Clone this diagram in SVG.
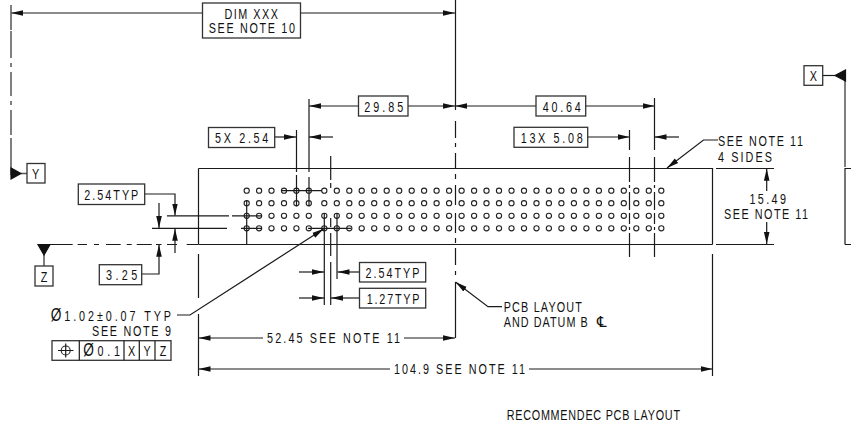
<svg xmlns="http://www.w3.org/2000/svg" width="851" height="427" viewBox="0 0 851 427">
<style>
text{font-family:"Liberation Sans",Arial,sans-serif;font-size:15px;fill:#111}
.m{text-anchor:middle}
.o{font-size:19px}
path,line,rect{fill:none;stroke:#1a1a1a;stroke-width:1.2}
.g{stroke:#555;stroke-width:1.5}
.b{stroke:#333;stroke-width:1.3;fill:#fff}
.a{marker-end:url(#ah)}
.f{fill:#111;stroke:#111}
circle{fill:none;stroke:#222;stroke-width:1.1}
</style>
<defs>
<marker id="ah" markerUnits="userSpaceOnUse" markerWidth="13" markerHeight="8" refX="12" refY="4" orient="auto"><path d="M0 1.2L12 4L0 6.800z" style="fill:#111;stroke:none"/></marker>
<g id="row">
<circle cx="246.7" r="2.6"/><circle cx="259.1" r="2.6"/><circle cx="271.5" r="2.6"/><circle cx="284" r="2.6"/><circle cx="296.4" r="2.6"/><circle cx="308.8" r="2.6"/>
<circle cx="324.3" r="2.6"/><circle cx="336.8" r="2.6"/><circle cx="349.3" r="2.6"/><circle cx="361.7" r="2.6"/><circle cx="374.2" r="2.6"/><circle cx="386.7" r="2.6"/><circle cx="399.2" r="2.6"/><circle cx="411.7" r="2.6"/><circle cx="424.1" r="2.6"/><circle cx="436.6" r="2.6"/><circle cx="449.1" r="2.6"/><circle cx="461.6" r="2.6"/><circle cx="474.1" r="2.6"/><circle cx="486.5" r="2.6"/><circle cx="499" r="2.6"/><circle cx="511.5" r="2.6"/><circle cx="524" r="2.6"/><circle cx="536.5" r="2.6"/><circle cx="548.9" r="2.6"/><circle cx="561.4" r="2.6"/><circle cx="573.9" r="2.6"/><circle cx="586.4" r="2.6"/><circle cx="598.9" r="2.6"/><circle cx="611.3" r="2.6"/><circle cx="623.8" r="2.6"/><circle cx="636.3" r="2.6"/><circle cx="648.8" r="2.6"/><circle cx="661.3" r="2.6"/>
</g>
</defs>
<g id="board">
<path d="M198.500 168.500H712.500V244.500M198.500 244.500V168.500M198.500 244.500H712.500"/>
<use href="#row" y="190.700"/><use href="#row" y="203.200"/><use href="#row" y="215.800"/><use href="#row" y="228.300"/>
</g>
<g id="connectors">
<path class="a" d="M202 13H11"/><path class="a" d="M300 13H455"/>
<path class="g" d="M11 5V30M11 31V58M11 63V67M11 72V96M11 101V105M11 110V135M11 138V175"/>
<path d="M455.500 0V110M455.500 121V138M455.500 143V147M455.500 153V168M455.500 174V179M455.500 185V205M455.500 213V233M455.500 238V243M455.500 248V265M455.500 271V275M455.500 282V338"/>
<path class="a" d="M358 106H309"/><path class="a" d="M408 106H455"/><path class="a" d="M536 106H455"/><path class="a" d="M586 106H654.500"/>
<path d="M309 99V172M309 177V206.500M296.500 130V172M296.500 175V206.500"/>
<path class="a" d="M275 137H296"/><path class="a" d="M333 137H309"/>
<path class="a" d="M588 137H629.500"/><path class="a" d="M679 137H654.500"/>
<path d="M654.500 98V150M654.500 157V182M654.500 185V188M654.500 192V210M654.500 213V224M654.500 227V230M654.500 233V257"/>
<path d="M629.500 130V150M629.500 157V182M629.500 185V188M629.500 192V210M629.500 213V224M629.500 227V230M629.500 233V257"/>
<path d="M330.700 156V180M330.700 183V188M330.700 218V227M330.700 233V256M330.700 262V305"/>
<path d="M324.300 213V305M337 213V279"/>
<path d="M281 190.700H322M308 228.300H351"/>
<path class="a" d="M299 272H324"/><path class="a" d="M359 272H337.500"/>
<path class="a" d="M299 298H324"/><path class="a" d="M359 298H331"/>
<path d="M167 215.800H229M232 215.800H262M152 228.300H227M241 228.300H262M246.700 200V244"/>
<path class="a" d="M144.500 194H175V215.500"/><path class="a" d="M159 203V228"/><path class="a" d="M175 253V228.800"/>
<path class="a" d="M141.500 274H159V244.800"/>
<path d="M38 244.500H72.700M77.700 244.500H87M94 244.500H99M106 244.500H120.700M126.700 244.500H131.700M136.700 244.500H151.700M156 244.500H161.500M167 244.500H177M186.700 244.500H198"/>
<path class="g" d="M44 255V266M27 173.500H21"/>
<path class="f" d="M38 244.500H50L44 255zM11 168L21 173.500L11 179z"/>
<path d="M198.500 254V298M198.500 314V376M712.500 254V376"/>
<path class="a" d="M263 338H198.500"/><path class="a" d="M404 338H455"/>
<path class="a" d="M390 369H198.500"/><path class="a" d="M529 369H712.500"/>
<path class="a" d="M177 315H190L323.800 228.800"/>
<path class="a" d="M502 306.700H488L455.500 282"/>
<path class="a" d="M718 140H703.500L667 168"/>
<path d="M716 168.500H774M716 244.500H774"/>
<path class="a" d="M766.700 191V168.800"/><path class="a" d="M766.700 222V244"/>
<path class="g" d="M845 72V167"/><path d="M845 244.500V168.500H851M845 244.500H851"/>
<path d="M823 75.500H835"/><path class="f" d="M845.500 70V81L835 75.500z"/>
</g>
<g id="label-dim-xxx"><rect class="b" x="202.500" y="3" width="98" height="35"/><text transform="matrix(.72 0 0 1 224.500 18.500)" textLength="74.300">DIM XXX</text><text transform="matrix(.72 0 0 1 208.700 33)" textLength="119.900">SEE NOTE 10</text></g>
<g id="label-29-85"><rect class="b" x="358.500" y="96" width="49.500" height="20"/><text transform="matrix(.72 0 0 1 364.300 111.500)" textLength="54.200">29.85</text></g>
<g id="label-40-64"><rect class="b" x="536" y="96" width="49.700" height="20"/><text transform="matrix(.72 0 0 1 542.700 111.500)" textLength="52.800">40.64</text></g>
<g id="label-13x"><rect class="b" x="514" y="127.300" width="73.700" height="20"/><text transform="matrix(.72 0 0 1 520.700 142.500)" textLength="86.100">13X 5.08</text></g>
<g id="label-5x"><rect class="b" x="208.500" y="127.500" width="66.200" height="20"/><text transform="matrix(.72 0 0 1 215 142.500)" textLength="74">5X 2.54</text></g>
<g id="label-2-54a"><rect class="b" x="78.300" y="184" width="66.400" height="20.500"/><text transform="matrix(.72 0 0 1 84.300 199.500)" textLength="75">2.54TYP</text></g>
<g id="label-3-25"><rect class="b" x="99.300" y="264.700" width="42.400" height="20"/><text transform="matrix(.72 0 0 1 106 280)" textLength="43.500">3.25</text></g>
<g id="datum-y"><rect class="b" x="27" y="163.500" width="18" height="19.500"/><text class="m" transform="matrix(.72 0 0 1 35.700 178.500)">Y</text></g>
<g id="datum-z"><rect class="b" x="35" y="266" width="18" height="20"/><text class="m" transform="matrix(.72 0 0 1 44 281.500)">Z</text></g>
<g id="datum-x"><rect class="b" x="804" y="65.700" width="18.700" height="19.600"/><text class="m" transform="matrix(.72 0 0 1 813.300 80.700)">X</text></g>
<g id="label-2-54b"><rect class="b" x="359.500" y="262.500" width="66.200" height="19.500"/><text transform="matrix(.72 0 0 1 365.500 277.500)" textLength="75">2.54TYP</text></g>
<g id="label-1-27"><rect class="b" x="359.500" y="288.300" width="66.200" height="19.700"/><text transform="matrix(.72 0 0 1 366.700 303.500)" textLength="73.400">1.27TYP</text></g>
<g id="label-15-49"><text transform="matrix(.72 0 0 1 749.500 204)" textLength="50.700">15.49</text><text transform="matrix(.72 0 0 1 724 218.500)" textLength="116.700">SEE NOTE 11</text></g>
<g id="label-sides"><text transform="matrix(.72 0 0 1 718 146)" textLength="118">SEE NOTE 11</text><text transform="matrix(.72 0 0 1 718 161.500)" textLength="75">4 SIDES</text></g>
<g id="label-hole"><text transform="matrix(.72 0 0 1 50.700 320.700)" textLength="167"><tspan class="o">Ø</tspan>1.02±0.07 TYP</text><text transform="matrix(.72 0 0 1 92 336)" textLength="109.700">SEE NOTE 9</text></g>
<g id="fcf">
<rect class="b" x="52" y="340.700" width="119" height="19.600"/>
<path d="M79.300 340.700V360.300M124 340.700V360.300M139.300 340.700V360.300M155 340.700V360.300M58 350.500H73.500M65.700 343.500V357.500"/>
<circle cx="65.700" cy="350.500" r="4.500"/>
<text transform="matrix(.72 0 0 1 83.300 356)" textLength="51"><tspan class="o">Ø</tspan>0.1</text><text class="m" transform="matrix(.72 0 0 1 131.700 356)">X</text><text class="m" transform="matrix(.72 0 0 1 147 356)">Y</text><text class="m" transform="matrix(.72 0 0 1 163 356)">Z</text>
</g>
<g id="label-52"><text transform="matrix(.72 0 0 1 267 343.300)" textLength="184.700">52.45 SEE NOTE 11</text></g>
<g id="label-104"><text transform="matrix(.72 0 0 1 394 374)" textLength="181.900">104.9 SEE NOTE 11</text></g>
<g id="label-pcb"><text transform="matrix(.72 0 0 1 503.700 311.500)" textLength="108.700">PCB LAYOUT</text><text transform="matrix(.72 0 0 1 503.700 326.500)" textLength="116.700">AND DATUM B</text><text x="597" y="326.500" style="font-family:'DejaVu Sans',sans-serif;font-size:15px">℄</text></g>
<g id="label-title"><text transform="matrix(.72 0 0 1 506.700 420)" textLength="240.700">RECOMMENDEC PCB LAYOUT</text></g>
</svg>
